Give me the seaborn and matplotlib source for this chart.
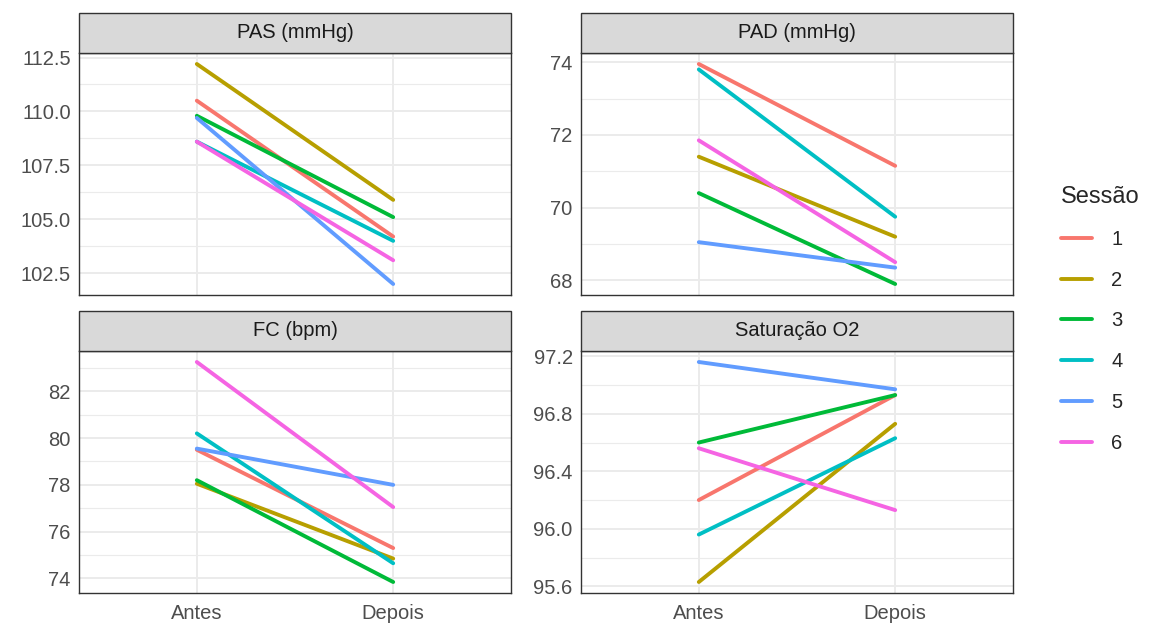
import numpy as np
import pandas as pd
import seaborn as sns
import matplotlib.pyplot as plt
from matplotlib.ticker import MultipleLocator, FormatStrFormatter
from matplotlib.patches import Rectangle

sns.set_style("white")
plt.rcParams['font.family'] = ['Liberation Sans', 'DejaVu Sans']

#%% Data
momentos = ["Antes", "Depois"]
sessoes = ["1", "2", "3", "4", "5", "6"]

pas_antes = [110.5, 112.2, 109.8, 108.6, 109.7, 108.6]
pas_depois = [104.2, 105.9, 105.1, 104.0, 102.0, 103.1]

pad_antes = [73.95, 71.4, 70.4, 73.8, 69.05, 71.85]
pad_depois = [71.15, 69.2, 67.9, 69.75, 68.35, 68.5]

fc_antes = [79.5, 78.05, 78.2, 80.2, 79.55, 83.25]
fc_depois = [75.3, 74.85, 73.85, 74.65, 78.0, 77.05]

sat_antes = [96.2, 95.63, 96.6, 95.96, 97.16, 96.56]
sat_depois = [96.93, 96.73, 96.93, 96.63, 96.97, 96.13]

paineis = ["PAS (mmHg)", "PAD (mmHg)", "FC (bpm)", "Saturação O2"]
valores = [(pas_antes, pas_depois), (pad_antes, pad_depois),
           (fc_antes, fc_depois), (sat_antes, sat_depois)]
passos = [2.5, 2, 2, 0.4]
formatos = ["%.1f", "%.0f", "%.0f", "%.1f"]

cores = ["#F8766D", "#B79F00", "#00BA38", "#00BFC4", "#619CFF", "#F564E3"]

rows = []
for painel, (antes, depois) in zip(paineis, valores):
    for s, a, d in zip(sessoes, antes, depois):
        rows.append([painel, s, "Antes", a])
        rows.append([painel, s, "Depois", d])
df = pd.DataFrame(rows, columns=["Variavel", "Sessão", "Momento", "Valor"])
df["x"] = df["Momento"].map({"Antes": 0, "Depois": 1})

#%% Plot
W, H = 1149, 624
fig = plt.figure(figsize=(W / 100, H / 100), dpi=100)

# panel boxes in pixels (left, top, right, bottom)
boxes = [(79, 53, 511, 295), (581, 53, 1013, 295),
         (79, 351, 511, 593), (581, 351, 1013, 593)]
strip_h = 40
fs = 14.5

for i, (painel, box) in enumerate(zip(paineis, boxes)):
    l, t, r, b = box
    ax = fig.add_axes([l / W, 1 - b / H, (r - l) / W, (b - t) / H])
    d = df[df["Variavel"] == painel]
    sns.lineplot(data=d, x="x", y="Valor", hue="Sessão", palette=cores,
                 hue_order=sessoes, lw=2.8, ax=ax, legend=(i == 0))
    if i == 0:
        handles, labels = ax.get_legend_handles_labels()
        ax.get_legend().remove()

    lo, hi = d["Valor"].min(), d["Valor"].max()
    rng = hi - lo
    ax.set_ylim(lo - 0.05 * rng, hi + 0.05 * rng)
    ax.set_xlim(-0.6, 1.6)
    ax.yaxis.set_major_locator(MultipleLocator(passos[i]))
    ax.yaxis.set_minor_locator(MultipleLocator(passos[i] / 2))
    ax.yaxis.set_major_formatter(FormatStrFormatter(formatos[i]))
    ax.set_xticks([0, 1])
    ax.set_xticks([], minor=True)
    ax.grid(True, which="major", color="#EBEBEB", lw=1.4)
    ax.grid(True, which="minor", axis="y", color="#EBEBEB", lw=0.8)
    ax.set_axisbelow(True)
    ax.set_xlabel("")
    ax.set_ylabel("")
    for sp in ax.spines.values():
        sp.set_color("#333333")
        sp.set_linewidth(1.0)
    ax.tick_params(axis="both", which="major", length=4, width=1, color="#333333",
                   labelsize=fs, labelcolor="#4D4D4D", pad=2)
    ax.tick_params(axis="x", pad=4)
    ax.tick_params(axis="both", which="minor", length=0)
    if i < 2:
        ax.tick_params(axis="x", length=0, labelbottom=False)
    else:
        ax.set_xticklabels(momentos)

    # strip
    fig.patches.append(Rectangle((l / W, 1 - t / H), (r - l) / W, strip_h / H,
                                 transform=fig.transFigure, facecolor="#D9D9D9",
                                 edgecolor="#333333", lw=1.0))
    fig.text((l + r) / 2 / W, 1 - (t - strip_h / 2) / H, painel, ha="center",
             va="center", fontsize=fs, color="#1A1A1A")

fig.legend(handles, labels, title="Sessão", loc="upper left",
           bbox_to_anchor=(1043 / W, 1 - 168 / H), frameon=False,
           fontsize=fs, title_fontsize=17, handlelength=1.55,
           handletextpad=0.95, labelspacing=1.08, alignment="left")

plt.savefig("out.png", dpi=100)
